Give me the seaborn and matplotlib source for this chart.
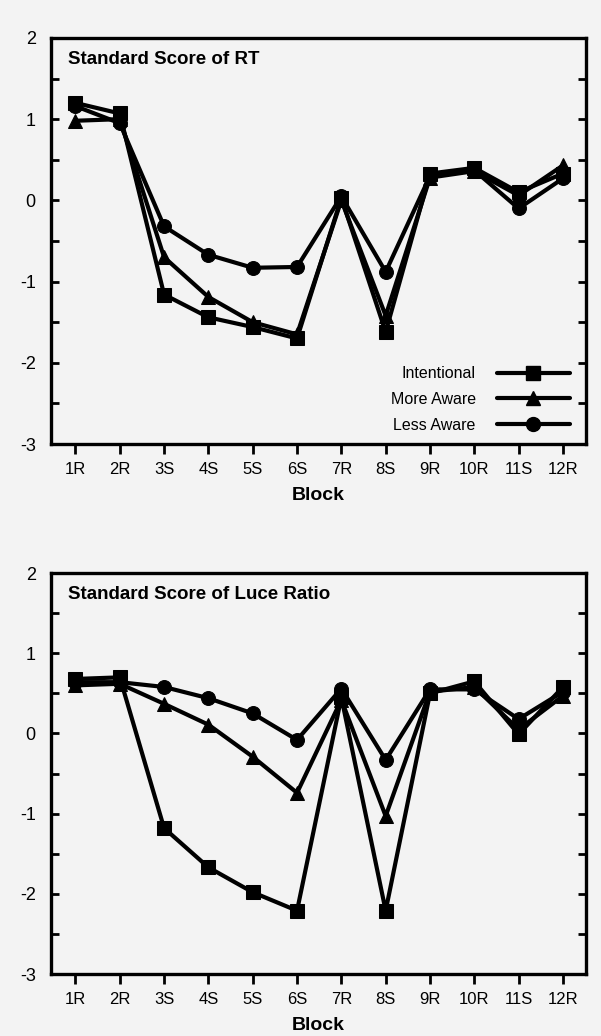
import matplotlib
matplotlib.use("Agg")
import matplotlib.pyplot as plt
from matplotlib.lines import Line2D
import numpy as np
import pandas as pd
import seaborn as sns

# block labels along the x axis
blocks = ["1R", "2R", "3S", "4S", "5S", "6S", "7R", "8S", "9R", "10R", "11S", "12R"]
groups = ["Intentional", "More Aware", "Less Aware"]

# standard score of RT (top panel)
rt_intentional = [1.20, 1.07, -1.16, -1.44, -1.56, -1.70, 0.03, -1.62, 0.33, 0.40, 0.10, 0.33]
rt_more_aware = [0.98, 1.00, -0.70, -1.19, -1.50, -1.65, 0.00, -1.42, 0.28, 0.36, 0.06, 0.43]
rt_less_aware = [1.16, 0.95, -0.32, -0.67, -0.83, -0.82, 0.05, -0.88, 0.30, 0.37, -0.10, 0.27]

# standard score of Luce ratio (bottom panel)
luce_intentional = [0.68, 0.70, -1.18, -1.67, -1.98, -2.21, 0.45, -2.21, 0.50, 0.65, -0.01, 0.58]
luce_more_aware = [0.60, 0.62, 0.37, 0.11, -0.29, -0.74, 0.42, -1.03, 0.52, 0.58, 0.05, 0.47]
luce_less_aware = [0.64, 0.64, 0.58, 0.44, 0.25, -0.08, 0.56, -0.33, 0.55, 0.55, 0.18, 0.52]

markers = {"Intentional": "s", "More Aware": "^", "Less Aware": "o"}
palette = {g: "black" for g in groups}
bg = "#f3f3f3"


def long_frame(series):
    rows = []
    for group, values in zip(groups, series):
        for i, v in enumerate(values):
            rows.append({"pos": i + 1, "block": blocks[i], "group": group, "score": v})
    return pd.DataFrame(rows)


def draw_panel(ax, df, title, show_legend=False):
    sns.lineplot(
        data=df, x="pos", y="score", hue="group", style="group",
        hue_order=["Less Aware", "More Aware", "Intentional"],
        style_order=["Less Aware", "More Aware", "Intentional"],
        palette=palette, markers=markers, dashes=False,
        linewidth=3.0, markersize=10, markeredgecolor="black",
        legend=False, ax=ax,
    )
    ax.set_facecolor(bg)
    ax.set_xlim(0.45, 12.52)
    ax.set_ylim(-3, 2)
    ax.set_xticks(range(1, 13))
    ax.set_xticklabels(blocks)
    ax.set_yticks([-3, -2, -1, 0, 1, 2])
    ax.set_yticklabels(["-3", "-2", "-1", "0", "1", "2"])
    ax.set_yticks(np.arange(-3, 2.01, 0.5), minor=True)
    ax.tick_params(axis="y", which="both", direction="in", length=6, width=2.0,
                   left=True, right=True, labelsize=13, pad=11, colors="black")
    ax.tick_params(axis="x", which="both", direction="out", length=7, width=2.0,
                   top=False, labelsize=12, pad=6, colors="black")
    for s in ax.spines.values():
        s.set_linewidth(2.4)
        s.set_color("black")
    ax.set_xlabel("Block", fontsize=14, fontweight="bold", labelpad=7, color="black")
    ax.set_ylabel("")
    ax.text(0.032, 0.946, title, transform=ax.transAxes, fontsize=13.5,
            fontweight="bold", va="center", ha="left", color="black")
    if show_legend:
        handles = [Line2D([], [], color="black", lw=3.0, marker=markers[g],
                          markersize=10) for g in groups]
        leg = ax.legend(handles, groups, loc="lower right", bbox_to_anchor=(0.997, -0.008),
                        markerfirst=False, frameon=False, fontsize=11.5,
                        handlelength=4.6, handletextpad=1.3, labelspacing=0.68)
        for t in leg.get_texts():
            t.set_color("black")


sns.set_style("ticks")
plt.rcParams["font.family"] = ["Liberation Sans", "DejaVu Sans"]
plt.rcParams["text.color"] = "black"

fig = plt.figure(figsize=(6.01, 10.36), dpi=100, facecolor=bg)
ax_rt = fig.add_axes([0.085, 0.5714, 0.89, 0.392])
ax_luce = fig.add_axes([0.085, 0.0598, 0.89, 0.387])

draw_panel(ax_rt, long_frame([rt_intentional, rt_more_aware, rt_less_aware]),
           "Standard Score of RT", show_legend=True)
draw_panel(ax_luce, long_frame([luce_intentional, luce_more_aware, luce_less_aware]),
           "Standard Score of Luce Ratio")

fig.savefig("out.png", dpi=100, facecolor=bg)
